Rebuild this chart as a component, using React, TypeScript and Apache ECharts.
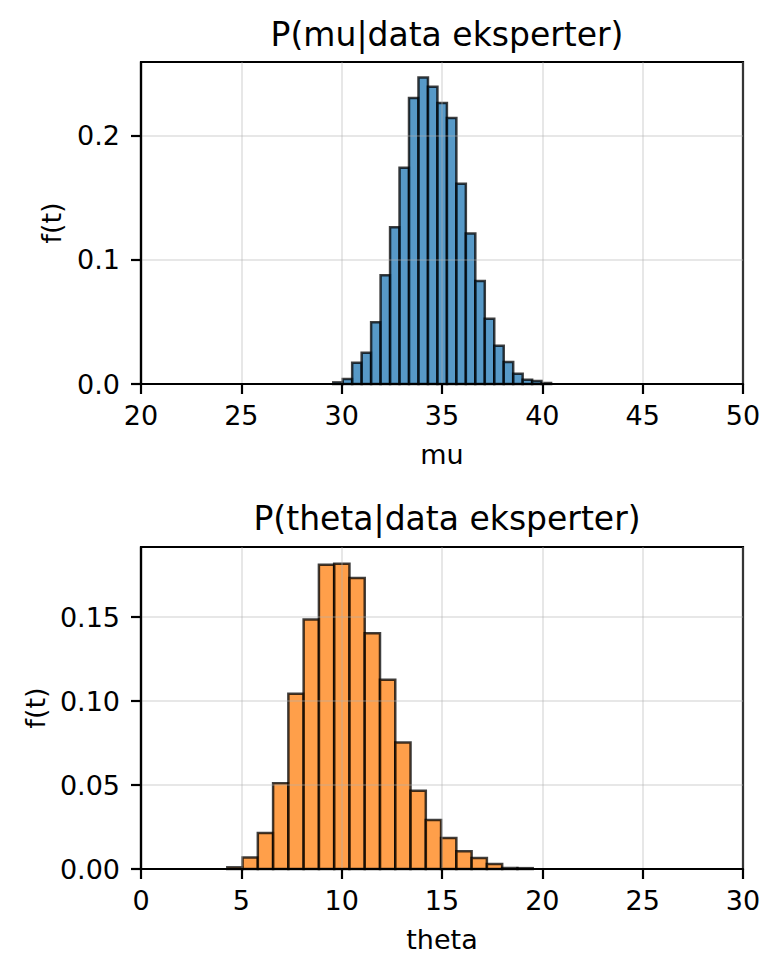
import React, { useEffect, useRef } from "react";
import * as echarts from "echarts";

// histogram of mu (bin edges start at muStart, width muBin)
const muStart = 29.58;
const muBin = 0.472;
const muDensity = [
  0.0013, 0.004, 0.0171, 0.0251, 0.0497, 0.0874, 0.126, 0.174, 0.23, 0.2465,
  0.239, 0.226, 0.214, 0.161, 0.121, 0.0829, 0.0524, 0.0307, 0.0176, 0.0083,
  0.0035, 0.0024, 0.0008,
];

// histogram of theta
const thetaStart = 4.3;
const thetaBin = 0.761;
const thetaDensity = [
  0.001, 0.0068, 0.0215, 0.0511, 0.1043, 0.1485, 0.1811, 0.1817, 0.1732,
  0.1404, 0.1126, 0.0753, 0.0466, 0.0292, 0.0185, 0.0105, 0.0065, 0.003,
  0.0006, 0.0005,
];

const muTicksY = [0, 0.1, 0.2];
const thetaTicksY = [0, 0.05, 0.1, 0.15];

const FONT = "DejaVu Sans";

const toBins = (start: number, width: number, vals: number[]) =>
  vals.map((v, i) => [start + i * width, start + (i + 1) * width, v]);

const renderBar =
  (fill: string) => (params: any, api: any) => {
    const p0 = api.coord([api.value(0), api.value(2)]);
    const p1 = api.coord([api.value(1), 0]);
    return {
      type: "rect",
      shape: { x: p0[0], y: p0[1], width: p1[0] - p0[0], height: p1[1] - p0[1] },
      style: { fill, stroke: "rgba(0,0,0,0.75)", lineWidth: 2.5 },
    };
  };

const xAxisBase = (min: number, max: number, name: string, gridIndex: number) => ({
  type: "value" as const,
  gridIndex,
  min,
  max,
  interval: 5,
  z: 3,
  name,
  nameLocation: "middle" as const,
  nameGap: 57,
  nameTextStyle: { fontFamily: FONT, fontSize: 27, color: "#000" },
  axisLine: { show: true, lineStyle: { color: "#000", width: 2.2 } },
  axisTick: { show: true, length: 10, lineStyle: { color: "#000", width: 2.2 } },
  axisLabel: { fontFamily: FONT, fontSize: 27, color: "#000", margin: 18 },
  splitLine: { show: true, lineStyle: { color: "rgba(176,176,176,0.3)", width: 2 } },
});

const yAxisBase = (max: number, ticks: number[], digits: number, gridIndex: number) => ({
  type: "value" as const,
  gridIndex,
  min: 0,
  max,
  z: 3,
  name: "f(t)",
  nameLocation: "middle" as const,
  nameGap: 76,
  nameTextStyle: { fontFamily: FONT, fontSize: 27, color: "#000" },
  axisLine: { show: true, lineStyle: { color: "#000", width: 2.2 } },
  axisTick: {
    show: true,
    length: 10,
    customValues: ticks,
    lineStyle: { color: "#000", width: 2.2 },
  },
  axisLabel: {
    fontFamily: FONT,
    fontSize: 27,
    color: "#000",
    margin: 21,
    customValues: ticks,
    formatter: (v: number) => v.toFixed(digits),
  },
  splitLine: { show: true, lineStyle: { color: "rgba(176,176,176,0.3)", width: 2 } },
});

const App: React.FC = () => {
  const ref = useRef<HTMLDivElement>(null);

  useEffect(() => {
    document.body.style.margin = "0";
    const dom = ref.current;
    if (!dom) return;
    const chart = echarts.init(dom, undefined, { renderer: "svg" });

    const option: echarts.EChartsOption = {
      animation: false,
      backgroundColor: "#fff",
      title: [
        {
          text: "P(mu|data eksperter)",
          left: 442,
          top: 13,
          textAlign: "center",
          textStyle: { fontFamily: FONT, fontSize: 33, fontWeight: "normal", color: "#000" },
        },
        {
          text: "P(theta|data eksperter)",
          left: 442,
          top: 497,
          textAlign: "center",
          textStyle: { fontFamily: FONT, fontSize: 33, fontWeight: "normal", color: "#000" },
        },
      ],
      grid: [
        { left: 141, top: 62, width: 602, height: 322, show: true, borderColor: "#000", borderWidth: 2.2, backgroundColor: "transparent" },
        { left: 141, top: 547, width: 602, height: 322, show: true, borderColor: "#000", borderWidth: 2.2, backgroundColor: "transparent" },
      ],
      xAxis: [xAxisBase(20, 50, "mu", 0), xAxisBase(0, 30, "theta", 1)],
      yAxis: [yAxisBase(0.259, muTicksY, 1, 0), yAxisBase(0.1917, thetaTicksY, 2, 1)],
      series: [
        {
          type: "custom",
          xAxisIndex: 0,
          yAxisIndex: 0,
          z: 1,
          renderItem: renderBar("rgba(31,119,180,0.75)") as any,
          encode: { x: [0, 1], y: 2 },
          data: toBins(muStart, muBin, muDensity),
        },
        {
          type: "custom",
          xAxisIndex: 1,
          yAxisIndex: 1,
          z: 1,
          renderItem: renderBar("rgba(255,127,14,0.75)") as any,
          encode: { x: [0, 1], y: 2 },
          data: toBins(thetaStart, thetaBin, thetaDensity),
        },
      ],
    };

    chart.setOption(option);
    return () => {
      chart.dispose();
    };
  }, []);

  return <div ref={ref} style={{ width: "780px", height: "977px" }} />;
};

export default App;
